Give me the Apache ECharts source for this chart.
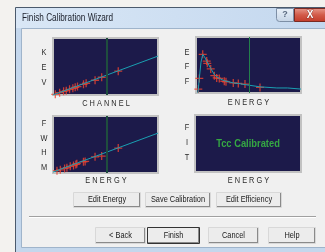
<!DOCTYPE html>
<html>
<head>
<meta charset="utf-8">
<script src="https://cdn.jsdelivr.net/npm/echarts@6/dist/echarts.min.js"></script>
<style>
  html, body { margin: 0; padding: 0; background: #f3f2ef; }
  #chart { width: 325px; height: 252px; }
</style>
</head>
<body>
<div id="chart"></div>
<script>
// KEV vs CHANNEL
const kevPeakChannels = [90, 258, 413, 517, 646, 775, 866, 956, 1190, 1292, 1641, 1900, 2545];
const kevPeakEnergies = [35, 124, 194, 229, 300, 353, 406, 441, 565, 618, 776, 935, 1253];
const kevFitChannels = [0, 4096];
const kevFitEnergies = [0, 2048];
const kevMarkerChannel = 2106;

// EFF vs ENERGY
const effPeakEnergies = [44, 63, 128, 204, 215, 280, 349, 394, 444, 539, 571, 710, 806, 933, 1219];
const effPeakValues = [7, 26, 69, 57, 53, 43, 31, 27, 26, 21, 20, 18, 17, 16, 10];
const effCurveEnergies = [35, 44, 63, 95, 128, 160, 204, 280, 349, 394, 444, 539, 710, 806, 933, 1219, 1540, 1745, 1760, 2000];
const effCurveValues = [0, 7, 26, 55, 69, 65, 57, 44, 33, 29, 26, 22, 18, 17, 15, 11, 9, 9, 7.5, 7];
const effMarkerEnergy = 1016;

// FWHM vs ENERGY
const fwhmPeakEnergies = [76, 139, 221, 265, 328, 391, 435, 454, 580, 612, 801, 927, 1243];
const fwhmPeakValues = [0.12, 0.17, 0.24, 0.28, 0.35, 0.40, 0.45, 0.49, 0.59, 0.61, 0.85, 0.89, 1.31];
const fwhmFitEnergies = [0, 2000];
const fwhmFitValues = [0.05, 2.1];
const fwhmMarkerEnergy = 1028;

const zip = (a, b) => a.map((v, i) => [v, b[i]]);

const FONT = "'Liberation Sans', Arial, sans-serif";
const PLOT_BG = '#1c1a4a';
const FIT_COLOR = '#1aa0b2';
const PEAK_COLOR = '#f04430';
const PLUS = 'path://M4.2,0 L5.8,0 L5.8,4.2 L10,4.2 L10,5.8 L5.8,5.8 L5.8,10 L4.2,10 L4.2,5.8 L0,5.8 L0,4.2 L4.2,4.2 Z';

const chart = echarts.init(document.getElementById('chart'));

function gridBox(left, top, width, height) {
  return {
    left, top, width, height, show: true,
    backgroundColor: PLOT_BG, borderColor: '#c2c2c2', borderWidth: 2
  };
}

function axis(idx, min, max) {
  return { type: 'value', gridIndex: idx, min, max, show: false };
}

function marker(x, color, w) {
  return {
    silent: true, symbol: 'none', label: { show: false },
    lineStyle: { color, width: w, type: 'solid' },
    data: [{ xAxis: x }]
  };
}

// screenshot text is squeezed horizontally, so scale it down a bit
function txt(text, x, y, opts, sx) {
  return {
    type: 'text', z: 50, silent: true, x, y, scaleX: sx || 0.82,
    style: Object.assign({
      text, x: 0, y: 0, fill: '#2b2b2b', font: '9px ' + FONT,
      align: 'center', verticalAlign: 'middle'
    }, opts || {})
  };
}

function button(x, y, w, h, label, isDefault) {
  return [
    { type: 'rect', z: 40, shape: { x: x + 0.5, y: y + 0.5, width: w - 1, height: h - 1 },
      style: { fill: '#ececec', stroke: isDefault ? '#333333' : '#d8d8d8', lineWidth: 1 } },
    { type: 'line', z: 41, shape: { x1: x + w - 1.5, y1: y + 1, x2: x + w - 1.5, y2: y + h - 1 },
      style: { stroke: '#8a8a8a', lineWidth: 1 } },
    { type: 'line', z: 41, shape: { x1: x + 1, y1: y + h - 1.5, x2: x + w - 1, y2: y + h - 1.5 },
      style: { stroke: '#8a8a8a', lineWidth: 1 } },
    txt(label, x + w / 2, y + h / 2, { fill: '#1a1a1a' })
  ];
}

const graphic = [
  // window frame + title bar
  { type: 'rect', z: -5, shape: { x: 15.5, y: 7.5, width: 320, height: 250 },
    style: { fill: '#c4d7ec', stroke: '#4b5a6c', lineWidth: 1 } },
  { type: 'rect', z: -4, shape: { x: 16, y: 8, width: 320, height: 20 },
    style: { fill: new echarts.graphic.LinearGradient(0, 0, 1, 0, [
      { offset: 0, color: '#d9e7f6' }, { offset: 1, color: '#c3d7ee' }]) } },
  { type: 'rect', z: -3, shape: { x: 21.5, y: 28.5, width: 310, height: 219 },
    style: { fill: '#f0f0f0', stroke: '#9fb4cb', lineWidth: 1 } },
  txt('Finish Calibration Wizard', 22, 18, { align: 'left', font: '10px ' + FONT, fill: '#1b1f2a' }),
  // help + close buttons
  { type: 'rect', z: 10, shape: { x: 276.5, y: 8.5, width: 17, height: 13, r: [0, 0, 0, 3] },
    style: { fill: new echarts.graphic.LinearGradient(0, 0, 0, 1, [
      { offset: 0, color: '#eaf1f9' }, { offset: 1, color: '#c5d4e6' }]), stroke: '#7d8fa6', lineWidth: 1 } },
  txt('?', 285, 15, { font: 'bold 9px ' + FONT, fill: '#5a6a80' }, 1),
  { type: 'rect', z: 10, shape: { x: 294.5, y: 8.5, width: 34, height: 13, r: [0, 0, 3, 0] },
    style: { fill: new echarts.graphic.LinearGradient(0, 0, 0, 1, [
      { offset: 0, color: '#e89a8c' }, { offset: 0.5, color: '#d25a48' }, { offset: 1, color: '#c23a28' }]),
      stroke: '#7a2a22', lineWidth: 1 } },
  txt('X', 310, 15, { font: 'bold 10px ' + FONT, fill: '#ffffff', stroke: '#6a2018', lineWidth: 0.6 }, 1),

  // axis captions
  txt('K', 44, 53), txt('E', 44, 68), txt('V', 44, 83),
  txt('C H A N N E L', 106, 104),
  txt('E', 187, 53), txt('F', 187, 67), txt('F', 187, 82),
  txt('E N E R G Y', 248.5, 103),
  txt('F', 44, 124), txt('W', 44, 139), txt('H', 44, 153), txt('M', 44, 168),
  txt('E N E R G Y', 106, 181),
  txt('F', 187, 128), txt('I', 187, 143), txt('T', 187, 158),
  txt('E N E R G Y', 248.5, 181),
  txt('Tcc Calibrated', 248, 144, { font: 'bold 11px ' + FONT, fill: '#35a843' }, 0.85),

  // separator
  { type: 'line', z: 5, shape: { x1: 29, y1: 216.5, x2: 316, y2: 216.5 }, style: { stroke: '#a0a0a0', lineWidth: 1 } },
  { type: 'line', z: 5, shape: { x1: 29, y1: 217.5, x2: 316, y2: 217.5 }, style: { stroke: '#ffffff', lineWidth: 1 } }
].concat(
  button(73, 192, 68, 16, 'Edit Energy'),
  button(145, 192, 66, 16, 'Save Calibration'),
  button(216, 192, 66, 16, 'Edit Efficiency'),
  button(95, 227, 51, 17, '< Back'),
  button(147, 227, 53, 17, 'Finish', true),
  button(208, 227, 51, 17, 'Cancel'),
  button(268, 227, 48, 17, 'Help')
);

const option = {
  animation: false,
  graphic,
  grid: [
    gridBox(53, 38, 105, 57),
    gridBox(196, 37, 105, 56),
    gridBox(53, 116, 105, 57),
    gridBox(195, 115, 106, 57)
  ],
  xAxis: [axis(0, 0, 4096), axis(1, 0, 2000), axis(2, 0, 2000), axis(3, 0, 2000)],
  yAxis: [axis(0, 0, 3000), axis(1, 0, 100), axis(2, 0, 3), axis(3, 0, 1)],
  series: [
    { type: 'line', xAxisIndex: 0, yAxisIndex: 0, data: zip(kevFitChannels, kevFitEnergies),
      showSymbol: false, lineStyle: { color: FIT_COLOR, width: 1 },
      markLine: marker(kevMarkerChannel, '#1f4e3e', 2) },
    { type: 'scatter', xAxisIndex: 0, yAxisIndex: 0, data: zip(kevPeakChannels, kevPeakEnergies),
      symbol: PLUS, symbolSize: 8, itemStyle: { color: PEAK_COLOR } },

    { type: 'line', xAxisIndex: 1, yAxisIndex: 1, data: zip(effCurveEnergies, effCurveValues),
      showSymbol: false, lineStyle: { color: FIT_COLOR, width: 1 },
      markLine: marker(effMarkerEnergy, '#23804c', 1) },
    { type: 'scatter', xAxisIndex: 1, yAxisIndex: 1, data: zip(effPeakEnergies, effPeakValues),
      symbol: PLUS, symbolSize: 8, itemStyle: { color: PEAK_COLOR } },

    { type: 'line', xAxisIndex: 2, yAxisIndex: 2, data: zip(fwhmFitEnergies, fwhmFitValues),
      showSymbol: false, lineStyle: { color: FIT_COLOR, width: 1 },
      markLine: marker(fwhmMarkerEnergy, '#1f4e3e', 2) },
    { type: 'scatter', xAxisIndex: 2, yAxisIndex: 2, data: zip(fwhmPeakEnergies, fwhmPeakValues),
      symbol: PLUS, symbolSize: 8, itemStyle: { color: PEAK_COLOR } }
  ]
};

chart.setOption(option);
</script>
</body>
</html>
